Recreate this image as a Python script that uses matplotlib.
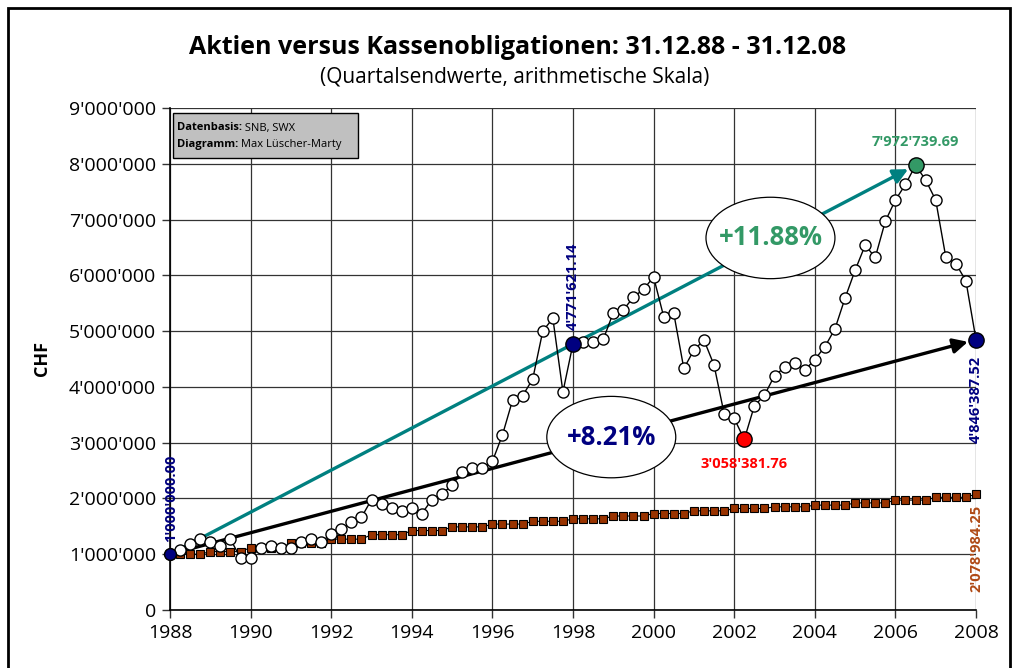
import matplotlib
matplotlib.use("Agg")
import matplotlib.pyplot as plt
from matplotlib.patches import Ellipse, Rectangle
from matplotlib.ticker import FuncFormatter, MultipleLocator

plt.rcParams['font.family'] = ['Open Sans', 'DejaVu Sans']

# quarterly end values, 31.12.88 .. 31.12.08
start_year = 1988
aktien = [1000000.00, 1075000, 1180000, 1270000, 1220000, 1150000, 1270000, 930000,
          940000, 1120000, 1150000, 1120000, 1110000, 1220000, 1270000, 1220000,
          1360000, 1450000, 1580000, 1660000, 1980000, 1900000, 1830000, 1770000,
          1830000, 1730000, 1980000, 2080000, 2240000, 2470000, 2545000, 2545000,
          2665000, 3140000, 3760000, 3840000, 4140000, 5000000, 5230000, 3910000,
          4771621.14, 4810000, 4800000, 4850000, 5330000, 5380000, 5610000, 5750000,
          5970000, 5260000, 5320000, 4330000, 4660000, 4840000, 4390000, 3520000,
          3435000, 3058381.76, 3660000, 3850000, 4200000, 4350000, 4420000, 4300000,
          4490000, 4720000, 5040000, 5590000, 6090000, 6540000, 6320000, 6970000,
          7350000, 7630000, 7972739.69, 7710000, 7350000, 6330000, 6210000, 5900000,
          4846387.52]

# Kassenobligationen: one level per year, last value at 31.12.08
kasse_jahr = [1000000, 1047000, 1117000, 1195000, 1270000, 1350000, 1425000, 1490000,
              1540000, 1590000, 1635000, 1685000, 1730000, 1778000, 1820000, 1850000,
              1880000, 1920000, 1970000, 2020000]
kasse_ende = 2078984.25

kasse = []
for v in kasse_jahr:
    kasse += [v] * 4
kasse.append(kasse_ende)

x = [start_year + i / 4 for i in range(len(aktien))]

i_start = 0
i_zwischen = 40
i_tief = 57
i_hoch = 74
i_ende = len(aktien) - 1

rendite_aktien = "+8.21%"
rendite_hoch = "+11.88%"

titel = "Aktien versus Kassenobligationen: 31.12.88 - 31.12.08"
untertitel = "(Quartalsendwerte, arithmetische Skala)"
info = [("Datenbasis:", " SNB, SWX"), ("Diagramm:", " Max Lüscher-Marty")]

navy = "#000080"
green = "#339966"
teal = "#008080"
brown = "#993300"
brown_txt = "#b04a16"


def chf(v, pos=None):
    return f"{int(round(v)):,}".replace(",", "'")


def chf2(v):
    return f"{v:,.2f}".replace(",", "'")


fig = plt.figure(figsize=(10.16, 6.68), dpi=100)
ax = fig.add_axes([170 / 1016, 1 - 610 / 668, 806 / 1016, 502 / 668])

ax.set_xlim(1988, 2008)
ax.set_ylim(0, 9000000)
ax.xaxis.set_major_locator(MultipleLocator(2))
ax.yaxis.set_major_locator(MultipleLocator(1000000))
ax.yaxis.set_major_formatter(FuncFormatter(chf))
ax.grid(True, color="#333333", lw=0.9)
ax.set_axisbelow(True)
for s in ["top", "right"]:
    ax.spines[s].set_visible(False)
ax.spines["left"].set_linewidth(1.2)
ax.spines["bottom"].set_linewidth(1.2)
ax.tick_params(labelsize=14, length=6, width=1, color="#333333", pad=4)
ax.set_ylabel("CHF", fontsize=13, fontweight="bold", labelpad=13)

# arrows from start to peak and to end
ax.annotate("", xy=(x[i_hoch], aktien[i_hoch]), xytext=(x[i_start], aktien[i_start]),
            arrowprops=dict(arrowstyle="-|>", color=teal, lw=2.4, mutation_scale=22,
                            shrinkA=0, shrinkB=6), zorder=2)
ax.annotate("", xy=(x[i_ende], aktien[i_ende]), xytext=(x[i_start], aktien[i_start]),
            arrowprops=dict(arrowstyle="-|>", color="black", lw=2.4, mutation_scale=22,
                            shrinkA=0, shrinkB=6), zorder=2)

# series
ax.plot(x, kasse, color="black", lw=0.8, marker="s", ms=6, mfc=brown, mec="black",
        mew=0.8, zorder=3, clip_on=False)
ax.plot(x, aktien, color="black", lw=1, marker="o", ms=8, mfc="white", mec="black",
        mew=1, zorder=4, clip_on=False)

# highlighted points
spezial = [(i_start, navy, 8.5), (i_zwischen, navy, 11), (i_ende, navy, 11),
           (i_tief, "red", 11), (i_hoch, green, 11)]
for i, col, ms in spezial:
    ax.plot(x[i], aktien[i], "o", ms=ms, mfc=col, mec="black", zorder=5, clip_on=False)

lab = dict(fontsize=10.5, fontweight="bold", textcoords="offset points", zorder=6)
ax.annotate(chf2(aktien[i_start]), (x[i_start], aktien[i_start]), xytext=(1, 9),
            rotation=90, ha="center", va="bottom", color=navy, **lab)
ax.annotate(chf2(aktien[i_zwischen]), (x[i_zwischen], aktien[i_zwischen]), xytext=(0, 10),
            rotation=90, ha="center", va="bottom", color=navy, **lab)
ax.annotate(chf2(aktien[i_hoch]), (x[i_hoch], aktien[i_hoch]), xytext=(0, 12),
            ha="center", va="bottom", color=green, **lab)
ax.annotate(chf2(aktien[i_tief]), (x[i_tief], aktien[i_tief]), xytext=(0, -13),
            ha="center", va="top", color="red", **lab)
ax.annotate(chf2(aktien[i_ende]), (x[i_ende], aktien[i_ende]), xytext=(0, -12),
            rotation=90, ha="center", va="top", color=navy, **lab)
ax.annotate(chf2(kasse[-1]), (x[-1], kasse[-1]), xytext=(0, -8),
            rotation=90, ha="center", va="top", color=brown_txt, **lab)

# ellipses with the yearly returns
for cx, cy, txt, col in [(2002.9, 6670000, rendite_hoch, green),
                         (1998.95, 3100000, rendite_aktien, navy)]:
    ax.add_patch(Ellipse((cx, cy), 3.2, 1460000, facecolor="white", edgecolor="black",
                         lw=0.9, zorder=6))
    ax.text(cx, cy, txt, ha="center", va="center", fontsize=18.5, fontweight="bold",
            color=col, zorder=7)

# info box
fig.patches.append(Rectangle((173 / 1016, 1 - 158 / 668), 185 / 1016, 45 / 668,
                             transform=fig.transFigure, facecolor="#c0c0c0",
                             edgecolor="black", lw=1, zorder=5))
fig.canvas.draw()
r = fig.canvas.get_renderer()
for k, (fett, rest) in enumerate(info):
    yk = 1 - (128 + 17 * k) / 668
    t = fig.text(177 / 1016, yk, fett, fontsize=8, fontweight="bold", va="center",
                 zorder=6)
    bb = t.get_window_extent(r)
    fig.text(bb.x1 / 1016, yk, rest, fontsize=8, va="center", zorder=6)

fig.text(0.509, 1 - 48 / 668, titel, ha="center", va="center", fontsize=18,
         fontweight="bold")
fig.text(0.507, 1 - 77 / 668, untertitel, ha="center", va="center", fontsize=15)

# outer frame
fig.patches.append(Rectangle((8 / 1016, -0.05), 1002 / 1016, 1.05 - 8 / 668,
                             transform=fig.transFigure, fill=False, edgecolor="black",
                             lw=2))

fig.savefig("out.png", dpi=100)
